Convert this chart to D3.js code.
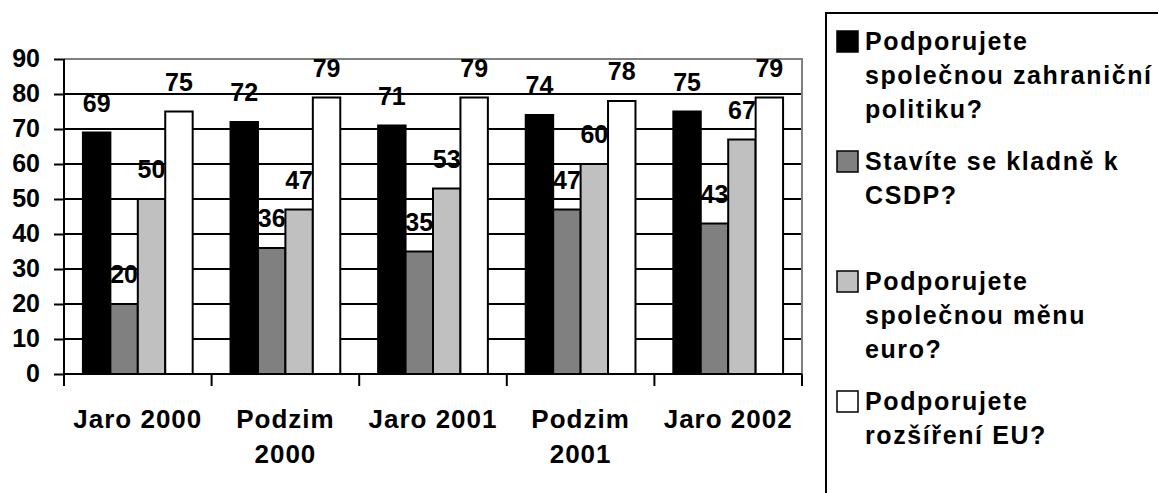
<!DOCTYPE html>
<html>
<head>
<meta charset="utf-8">
<script src="https://cdn.jsdelivr.net/npm/d3@7"></script>
<style>
  html, body { margin: 0; padding: 0; background: #fff; }
  svg { display: block; }
  text { font-family: "Liberation Sans", Arial, sans-serif; font-weight: bold; fill: #000; }
</style>
</head>
<body>
<svg id="chart" width="1158" height="493"></svg>
<script>
const categories = ["Jaro 2000", "Podzim 2000", "Jaro 2001", "Podzim 2001", "Jaro 2002"];
const foreignPolicy = [69, 72, 71, 74, 75];
const csdp = [20, 36, 35, 47, 43];
const euro = [50, 47, 53, 60, 67];
const enlargement = [75, 79, 79, 78, 79];
const seriesLabels = [
  ["Podporujete", "společnou zahraniční", "politiku?"],
  ["Stavíte se kladně k", "CSDP?"],
  ["Podporujete", "společnou měnu", "euro?"],
  ["Podporujete", "rozšíření EU?"]
];
const seriesColors = ["#000000", "#808080", "#c0c0c0", "#ffffff"];
const yTicks = [0, 10, 20, 30, 40, 50, 60, 70, 80, 90];

(function () {
const series = [foreignPolicy, csdp, euro, enlargement];
const svg = d3.select("#chart");

const pLeft = 64, pRight = 802, pTop = 59, pBottom = 374;
const y = d3.scaleLinear().domain([0, 90]).range([pBottom, pTop]);
const x0 = d3.scaleBand().domain(categories).range([pLeft, pRight]).paddingInner(0).paddingOuter(0);
const x1 = d3.scaleBand().domain(d3.range(series.length)).range([0, x0.bandwidth()]).paddingInner(0).paddingOuter(0.69);

// gridlines
svg.append("g").selectAll("line").data(yTicks.filter(t => t > 0 && t < 90)).join("line")
  .attr("x1", pLeft).attr("x2", pRight)
  .attr("y1", d => y(d)).attr("y2", d => y(d))
  .attr("stroke", "#000").attr("stroke-width", 2);
// plot border top/right gray
svg.append("path")
  .attr("d", `M${pLeft},${y(90)}H${pRight}V${y(0)}`)
  .attr("fill", "none").attr("stroke", "#808080").attr("stroke-width", 2);

// bars
const groups = svg.append("g").selectAll("g").data(categories).join("g")
  .attr("transform", d => `translate(${x0(d)},0)`);
groups.each(function(cat, ci) {
  const g = d3.select(this);
  series.forEach((arr, si) => {
    g.append("rect")
      .attr("x", x1(si)).attr("width", x1.bandwidth())
      .attr("y", y(arr[ci])).attr("height", y(0) - y(arr[ci]))
      .attr("fill", seriesColors[si]).attr("stroke", "#000").attr("stroke-width", 2);
  });
  series.forEach((arr, si) => {
    g.append("text")
      .attr("x", x1(si) + x1.bandwidth() / 2)
      .attr("y", y(arr[ci]) - 21)
      .attr("text-anchor", "middle")
      .attr("font-size", 25)
      .text(arr[ci]);
  });
});

// y axis
const yAxis = d3.axisLeft(y).tickValues(yTicks).tickSize(10).tickFormat(d3.format("d"));
const ya = svg.append("g").attr("transform", `translate(${pLeft},0)`).call(yAxis);
ya.select(".domain").remove();
ya.selectAll(".tick line").attr("stroke", "#000").attr("stroke-width", 2);
ya.selectAll(".tick text").attr("x", -24).attr("dy", "0.3em")
  .attr("font-size", 25).attr("font-family", null).attr("fill", "#000");
svg.append("line").attr("x1", pLeft).attr("x2", pLeft).attr("y1", y(90)).attr("y2", y(0) + 12)
  .attr("stroke", "#000").attr("stroke-width", 2);

// x axis
svg.append("line").attr("x1", pLeft).attr("x2", pRight).attr("y1", y(0)).attr("y2", y(0))
  .attr("stroke", "#000").attr("stroke-width", 2);
const boundaries = categories.map(c => x0(c)).concat([x0(categories[categories.length - 1]) + x0.bandwidth()]);
svg.append("g").selectAll("line").data(boundaries).join("line")
  .attr("x1", d => d).attr("x2", d => d).attr("y1", y(0)).attr("y2", y(0) + 12)
  .attr("stroke", "#000").attr("stroke-width", 2);

// category labels with wrapping
const catG = svg.append("g");
categories.forEach(c => {
  const cx = x0(c) + x0.bandwidth() / 2;
  const t = catG.append("text").attr("x", cx).attr("y", 428).attr("text-anchor", "middle")
    .attr("font-size", 26).attr("letter-spacing", 1).text(c);
  if (t.node().getComputedTextLength() > x0.bandwidth() - 4) {
    const words = c.split(" ");
    t.text(null);
    words.forEach((w, i) => {
      t.append("tspan").attr("x", cx).attr("dy", i === 0 ? 0 : 35).text(w);
    });
  }
});

// legend
svg.append("rect").attr("x", 826).attr("y", 13).attr("width", 400).attr("height", 600)
  .attr("fill", "#fff").attr("stroke", "#000").attr("stroke-width", 2);
const lg = svg.append("g");
seriesLabels.forEach((lines, i) => {
  const by = 50 + i * 120;
  lg.append("rect").attr("x", 837).attr("y", by - 19).attr("width", 21).attr("height", 21)
    .attr("fill", seriesColors[i]).attr("stroke", "#000").attr("stroke-width", 1.5);
  const t = lg.append("text").attr("x", 865).attr("y", by).attr("font-size", 25).attr("letter-spacing", 1.6);
  lines.forEach((ln, j) => {
    t.append("tspan").attr("x", 865).attr("dy", j === 0 ? 0 : 34).text(ln);
  });
});
})();
</script>
</body>
</html>
